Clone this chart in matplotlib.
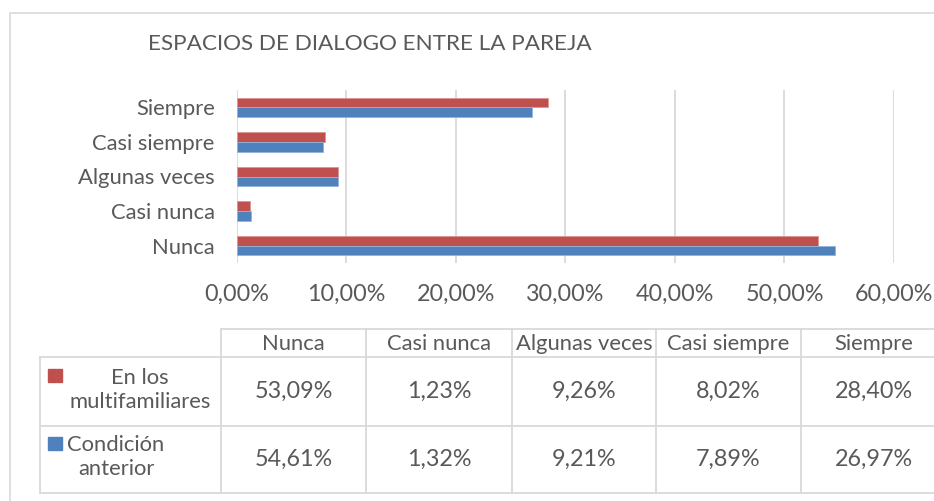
import matplotlib
matplotlib.use("Agg")
import matplotlib.pyplot as plt
from matplotlib.patches import Rectangle

# data
categories = ["Nunca", "Casi nunca", "Algunas veces", "Casi siempre", "Siempre"]
multifamiliares = [53.09, 1.23, 9.26, 8.02, 28.40]
anterior = [54.61, 1.32, 9.21, 7.89, 26.97]
series_names = ["En los\nmultifamiliares", "Condición\nanterior"]
title = "ESPACIOS DE DIALOGO ENTRE LA PAREJA"
xticks = [0, 10, 20, 30, 40, 50, 60]

red = "#C0504D"
blue = "#4F81BD"
txt = "#595959"
grid = "#D9D9D9"
fsize = 15.8

plt.rcParams["font.family"] = ["Lato", "DejaVu Sans"]

W, H = 934, 501
fig = plt.figure(figsize=(W / 100, H / 100), dpi=100)

# overlay in pixel coords for frame, title and table
ov = fig.add_axes([0, 0, 1, 1])
ov.set_xlim(0, W)
ov.set_ylim(H, 0)
ov.axis("off")

# outer chart border
ov.plot([10, 10, W], [H, 13, 13], color=grid, lw=1.2)

ov.text(148, 44, title, fontsize=16.2, color=txt, ha="left", va="center")

# bar chart
ax = fig.add_axes([237 / W, 1 - 263 / H, (894 - 237) / W, (263 - 90) / H])
ypos = list(range(len(categories)))
h = 0.28
ax.barh([y + h / 2 for y in ypos], multifamiliares, height=h, color=red,
        edgecolor="#D99694", linewidth=0.6)
ax.barh([y - h / 2 for y in ypos], anterior, height=h, color=blue,
        edgecolor="#95B3D7", linewidth=0.6)
ax.set_xlim(0, 60)
ax.set_ylim(-0.5, len(categories) - 0.5)
ax.set_xticks(xticks)
ax.set_xticklabels([f"{v:.2f}%".replace(".", ",") for v in xticks])
ax.set_yticks(ypos)
ax.set_yticklabels(categories)
ax.tick_params(axis="x", length=0, pad=15, labelsize=fsize + 1, labelcolor=txt)
ax.tick_params(axis="y", length=0, pad=16, labelsize=fsize, labelcolor=txt)
for s in ax.spines.values():
    s.set_visible(False)
ax.grid(axis="x", color=grid, lw=1.3)
ax.set_axisbelow(True)
ax.patch.set_alpha(0)

# data table
col_x = [221, 366, 512, 656, 801, 946]
row_y = [329, 357, 426, 493]
lw = 1.3
ov.plot([col_x[0], W], [row_y[0], row_y[0]], color=grid, lw=lw)
for y in row_y[1:]:
    ov.plot([40, W], [y, y], color=grid, lw=lw)
ov.plot([40, 40], [row_y[1], row_y[3]], color=grid, lw=lw)
for x in col_x[:-1]:
    ov.plot([x, x], [row_y[0], row_y[3]], color=grid, lw=lw)

for i, c in enumerate(categories):
    cx = (col_x[i] + col_x[i + 1]) / 2
    ov.text(cx, (row_y[0] + row_y[1]) / 2 + 1, c, fontsize=fsize, color=txt,
            ha="center", va="center")
    for r, vals in enumerate([multifamiliares, anterior]):
        cy = (row_y[r + 1] + row_y[r + 2]) / 2
        ov.text(cx, cy, f"{vals[i]:.2f}%".replace(".", ","), fontsize=fsize + 1,
                color=txt, ha="center", va="center")

# legend cells
ov.add_patch(Rectangle((48, 369), 14, 13, color=red))
ov.text(140, 390, series_names[0], fontsize=fsize, color=txt, ha="center",
        va="center", linespacing=1.3)
ov.add_patch(Rectangle((48, 437), 14, 13, color=blue))
ov.text(116, 457, series_names[1], fontsize=fsize, color=txt, ha="center",
        va="center", linespacing=1.3)

fig.savefig("out.png", dpi=100, facecolor="white")
